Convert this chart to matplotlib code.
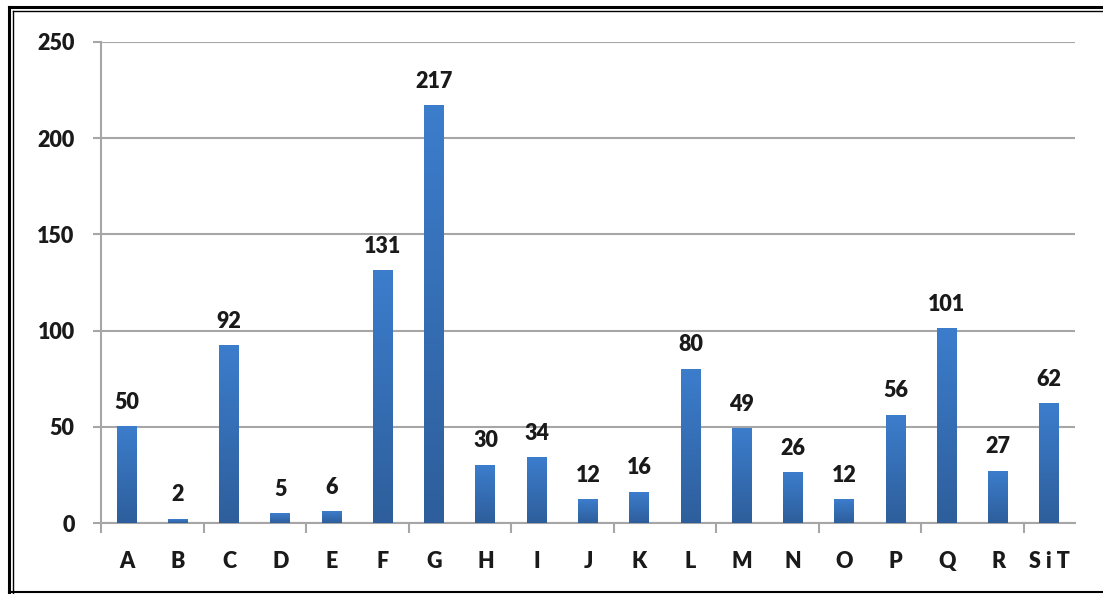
import matplotlib
matplotlib.use("Agg")
import matplotlib.pyplot as plt
import numpy as np
from matplotlib.lines import Line2D

plt.rcParams["font.family"] = ["Lato", "DejaVu Sans"]
plt.rcParams["font.weight"] = "heavy"

categories = ["A", "B", "C", "D", "E", "F", "G", "H", "I", "J",
              "K", "L", "M", "N", "O", "P", "Q", "R", "S i T"]
values = [50, 2, 92, 5, 6, 131, 217, 30, 34, 12,
          16, 80, 49, 26, 12, 56, 101, 27, 62]
y_ticks = [0, 50, 100, 150, 200, 250]

grid_col = "#a6a6a6"
text_col = "#1a1a1a"
bar_width = 0.39
fsize = 15.5

fig = plt.figure(figsize=(11.03, 5.94), dpi=100)
ax = fig.add_axes([0.0916, 0.1195, 0.883, 0.8098])

x = np.arange(len(categories))

# vertical gradient: lighter blue at top, darker at bottom
grad = np.linspace(0, 1, 256).reshape(-1, 1)
top = np.array([0.235, 0.49, 0.80])
bottom = np.array([0.18, 0.37, 0.61])
grad_img = bottom + (top - bottom) * grad[..., None]

for xi, v in zip(x, values):
    ax.imshow(grad_img, extent=(xi - bar_width / 2, xi + bar_width / 2, 0, v),
              origin="lower", aspect="auto", zorder=3)
    ax.annotate(str(v), (xi, v), xytext=(0, 10), textcoords="offset points",
                ha="center", va="bottom", fontsize=fsize, fontweight="heavy",
                color=text_col, zorder=4)

ax.set_xlim(-0.5, len(categories) - 0.5)
ax.set_ylim(0, 250)

ax.set_yticks(y_ticks)
ax.set_yticklabels([str(t) for t in y_ticks])
ax.yaxis.grid(True, color=grid_col, linewidth=1.5, zorder=0)

ax.set_xticks(x)
ax.set_xticklabels(categories)
ax.set_xticks(np.arange(-0.5, len(categories) - 0.4, 2), minor=True)

ax.tick_params(axis="x", which="major", length=0, pad=20,
               labelsize=fsize, labelcolor=text_col)
ax.tick_params(axis="x", which="minor", length=7, width=1.5,
               color=grid_col)
ax.tick_params(axis="y", length=6, width=1.5, color=grid_col, pad=13,
               labelsize=fsize, labelcolor=text_col)

for s in ["top", "right"]:
    ax.spines[s].set_visible(False)
for s in ["left", "bottom"]:
    ax.spines[s].set_color(grid_col)
    ax.spines[s].set_linewidth(1.5)

# double frame around the chart
W, H = 1103, 594
def fx(px):
    return px / W
def fy(py):
    return 1 - py / H

fig.add_artist(Line2D([fx(9), 1], [fy(7), fy(7)], color="black", lw=2.2))
fig.add_artist(Line2D([fx(13), 1], [fy(11), fy(11)], color="black", lw=1.0))
fig.add_artist(Line2D([fx(9), fx(9)], [fy(7), fy(593)], color="black", lw=2.2))
fig.add_artist(Line2D([fx(13), fx(13)], [fy(11), fy(593)], color="black", lw=1.0))
fig.add_artist(Line2D([fx(9), 1], [fy(592), fy(592)], color="black", lw=1.5))

fig.savefig("out.png", dpi=100)
